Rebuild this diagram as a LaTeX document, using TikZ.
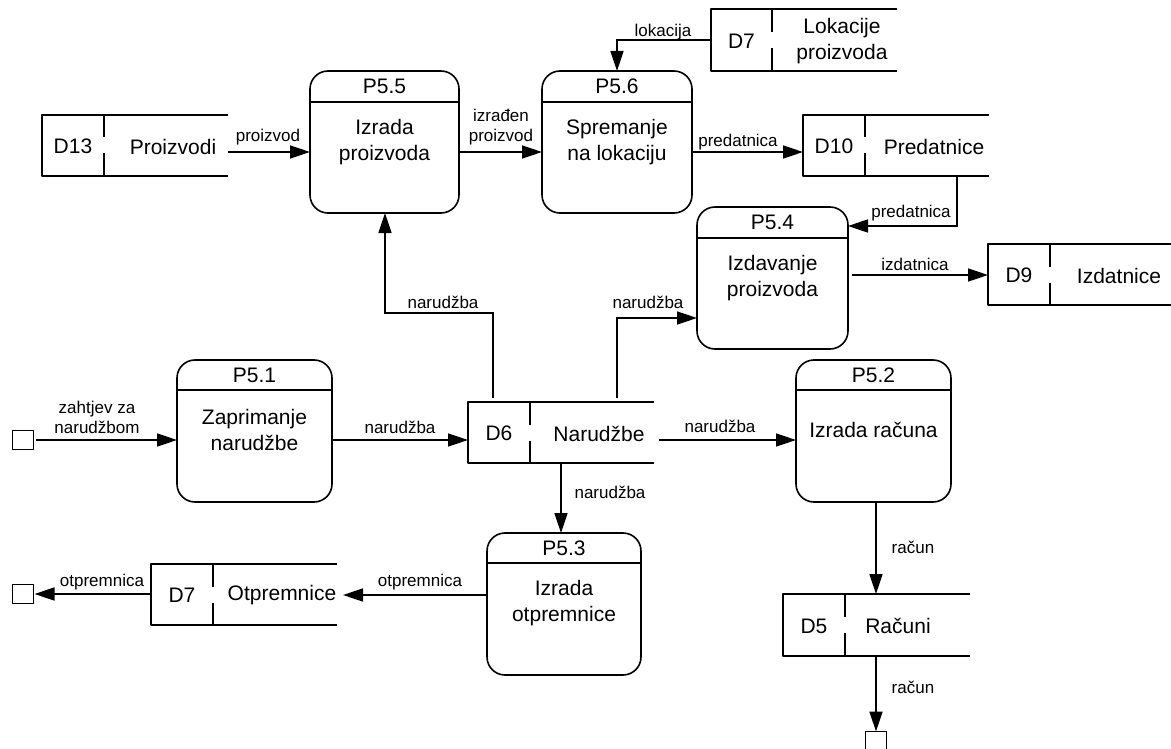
\documentclass[tikz,border=0pt]{standalone}
\usepackage{fontspec}
\setmainfont{Liberation Sans}
\usetikzlibrary{arrows.meta}

\tikzset{
  outline/.style={line width=1.6pt, line join=round},
  proc/.style={draw, line width=1.6pt, rounded corners=18pt, inner sep=0pt, outer sep=0pt},
  storebox/.style={inner sep=0pt, outer sep=0pt},
  entity/.style={draw, line width=1.4pt, inner sep=0pt, outer sep=0pt,
                 minimum width=21pt, minimum height=19pt},
  maintext/.style={inner sep=0pt, align=center, font=\fontsize{21}{26}\selectfont},
  lbl/.style={inner sep=0pt, align=center, font=\fontsize{17}{20}\selectfont},
  flow/.style={line width=1.6pt, -{Triangle[length=20pt,width=13pt]}},
}

% process: name, left, right, top, header line, bottom, id, text
\newcommand{\process}[8]{%
  \node[proc, minimum width={(#3-#2)*1pt}, minimum height={(#6-#4)*1pt}]
    (#1) at ({(#2+#3)/2},{(#4+#6)/2}) {};
  \draw[outline] (#1.west |- 0,#5) -- (#1.east |- 0,#5);
  \node[maintext] (#1-id) at ({(#2+#3)/2},{(#4+#5)/2}) {#7};
  \node[maintext] (#1-text) at ({(#2+#3)/2},{#5+40}) {#8};
}

% data store: name, left, right, top, bottom, divider, id, title, title x
\newcommand{\datastore}[9]{%
  \node[storebox, minimum width={(#3-#2)*1pt}, minimum height={(#5-#4)*1pt}]
    (#1) at ({(#2+#3)/2},{(#4+#5)/2}) {};
  \draw[outline] (#1.north east) -- (#1.north west) -- (#1.south west) -- (#1.south east);
  \draw[outline] (#6,#4) -- (#6,{(#4+#5)/2-8}) (#6,{(#4+#5)/2+8}) -- (#6,#5);
  \node[maintext] (#1-id) at ({(#2+#6)/2},{(#4+#5)/2+1}) {#7};
  \node[maintext] (#1-title) at (#9,{(#4+#5)/2+1}) {#8};
}

\begin{document}
\begin{tikzpicture}[x=1pt, y=-1pt]
\useasboundingbox (0,0) rectangle (1171,749);

% processes
\process{p55}{310}{459}{71}{102}{213}{P5.5}{Izrada\\proizvoda}
\process{p56}{542}{692}{71}{102}{213}{P5.6}{Spremanje\\na lokaciju}
\process{p51}{177}{332}{360}{390}{502}{P5.1}{Zaprimanje\\narudžbe}
\process{p54}{697}{848}{207}{238}{349}{P5.4}{Izdavanje\\proizvoda}
\process{p52}{796}{951}{360}{390}{502}{P5.2}{Izrada računa}
\process{p53}{487}{641}{533}{563}{675}{P5.3}{Izrada\\otpremnice}

% data stores
\datastore{d13}{42}{228}{115}{176}{104}{D13}{Proizvodi}{173}
\datastore{d7a}{711}{897}{9}{71}{772}{D7}{Lokacije\\proizvoda}{842}
\datastore{d10}{803}{989}{115}{176}{865}{D10}{Predatnice}{934}
\datastore{d9}{988}{1171}{244}{305}{1050}{D9}{Izdatnice}{1119}
\datastore{d6}{468}{654}{402}{463}{530}{D6}{Narudžbe}{599}
\datastore{d7b}{151}{337}{564}{625}{213}{D7}{Otpremnice}{282}
\datastore{d5}{783}{970}{594}{656}{845}{D5}{Računi}{898}

% external entities
\node[entity] (e1) at (23,440) {};
\node[entity] (e2) at (23,594) {};
\node[entity, minimum height=21pt] (e3) at (876,742) {};

% data flows
\draw[flow, shorten <=2pt] (e1.east) -- (e1.east -| p51.west);
\draw[flow] (p51.east |- 0,440) -- (d6.west |- 0,440);
\draw[flow, shorten <=4pt] (d6.north -| 493,0) |- (385,313) -- (p55.south -| 385,0);
\draw[flow, shorten <=4pt] (d6.north -| 617,0) |- (p54.west |- 0,318);
\draw[flow, shorten <=5pt] (d6.east |- 0,440) -- (p52.west |- 0,440);
\draw[flow] (d6.south -| 561,0) -- (p53.north -| 561,0);
\draw[flow, shorten >=6pt] (p53.west |- 0,595) -- (d7b.east |- 0,595);
\draw[flow, shorten >=1pt] (e2.east -| d7b.west) -- (e2.east);
\draw[flow] (d13.east |- 0,152) -- (p55.west |- 0,152);
\draw[flow] (p55.east |- 0,152) -- (p56.west |- 0,152);
\draw[flow] (d7a.west |- 0,40) -| (p56.north -| 617,0);
\draw[flow] (p56.east |- 0,152) -- (d10.west |- 0,152);
\draw[flow] (d10.south -| 957,0) |- (p54.east |- 0,226);
\draw[flow, shorten <=4pt] (p54.east |- 0,275) -- (d9.west |- 0,275);
\draw[flow] (p52.south -| 876,0) -- (d5.north -| 876,0);
\draw[flow] (d5.south -| e3.north) -- (e3.north);

% flow labels
\node[lbl] (l1) at (97,417) {zahtjev za\\narudžbom};
\node[lbl] (l2) at (400,427) {narudžba};
\node[lbl] (l3) at (443,302) {narudžba};
\node[lbl] (l4) at (648,302) {narudžba};
\node[lbl] (l5) at (720,426) {narudžba};
\node[lbl] (l6) at (610,492) {narudžba};
\node[lbl] (l7) at (420,582) {otpremnica};
\node[lbl] (l8) at (102,582) {otpremnica};
\node[lbl] (l9) at (268,137) {proizvod};
\node[lbl] (l10) at (501,127) {izrađen\\proizvod};
\node[lbl] (l11) at (663,32) {lokacija};
\node[lbl] (l12) at (738,142) {predatnica};
\node[lbl] (l13) at (911,213) {predatnica};
\node[lbl] (l14) at (915,264) {izdatnica};
\node[lbl] (l15) at (913,547) {račun};
\node[lbl] (l16) at (913,687) {račun};
\end{tikzpicture}
\end{document}
